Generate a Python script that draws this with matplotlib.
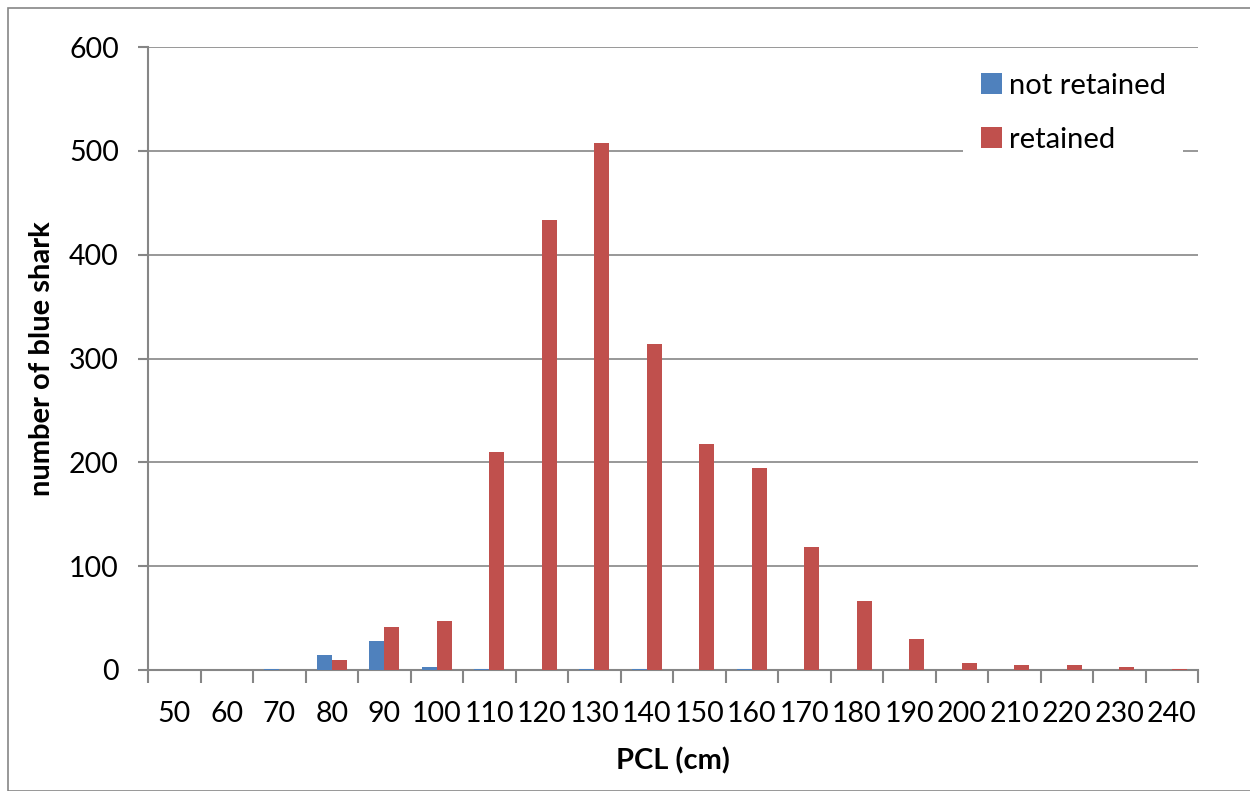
import matplotlib
matplotlib.use("Agg")
import matplotlib.pyplot as plt
import numpy as np
from matplotlib.patches import Rectangle

# length classes (cm) and counts
pcl = [50, 60, 70, 80, 90, 100, 110, 120, 130, 140,
       150, 160, 170, 180, 190, 200, 210, 220, 230, 240]
not_retained = [0, 0, 1, 14, 28, 3, 1, 0, 1, 1,
                0, 1, 0, 0, 0, 0, 0, 0, 0, 0]
retained = [0, 0, 0, 10, 41, 47, 210, 433, 508, 314,
            218, 195, 118, 66, 30, 7, 5, 5, 3, 1]

plt.rcParams["font.family"] = ["Lato", "DejaVu Sans"]

fig = plt.figure(figsize=(12.5, 7.91), dpi=100)
ax = fig.add_axes([148 / 1250, 1 - 670 / 791, 1050 / 1250, 623 / 791])

x = np.arange(len(pcl))
w = 0.29
ax.bar(x - w / 2, not_retained, w, color="#4f81bd", label="not retained", zorder=3)
ax.bar(x + w / 2, retained, w, color="#c0504d", label="retained", zorder=3)

ax.set_xlim(-0.5, len(pcl) - 0.5)
ax.set_ylim(0, 600)
ax.set_yticks(np.arange(0, 601, 100))
ax.yaxis.grid(True, color="#868686", linewidth=1.2, zorder=0)

# category labels centred, ticks on the boundaries
ax.set_xticks(x)
ax.set_xticklabels([str(v) for v in pcl])
ax.set_xticks(np.arange(-0.5, len(pcl)), minor=True)
ax.tick_params(axis="x", which="major", length=0, pad=22, labelsize=20.5)
ax.tick_params(axis="x", which="minor", length=9, width=1.5, color="#868686")
ax.tick_params(axis="y", length=7, width=1.5, color="#868686", labelsize=20.5, pad=14)

for side in ["top", "right"]:
    ax.spines[side].set_visible(False)
for side in ["left", "bottom"]:
    ax.spines[side].set_color("#868686")
    ax.spines[side].set_linewidth(1.5)

ax.set_ylabel("number of blue shark", fontsize=21, fontweight="bold", labelpad=10)
ax.set_xlabel("PCL (cm)", fontsize=21, fontweight="bold", labelpad=15)

leg = ax.legend(loc="upper right", bbox_to_anchor=(1.0, 1.01), frameon=True,
                fontsize=21, handlelength=0.72, handleheight=0.72,
                handletextpad=0.25, labelspacing=0.95, borderpad=0.6)
leg.get_frame().set_edgecolor("none")
leg.get_frame().set_facecolor("white")
leg.get_frame().set_alpha(1)

# outer chart border
fig.patches.append(Rectangle((8 / 1250, 0.0), 1.2, 1 - 8 / 791, transform=fig.transFigure,
                             fill=False, edgecolor="#868686", linewidth=1.2))

fig.savefig("out.png", dpi=100)
